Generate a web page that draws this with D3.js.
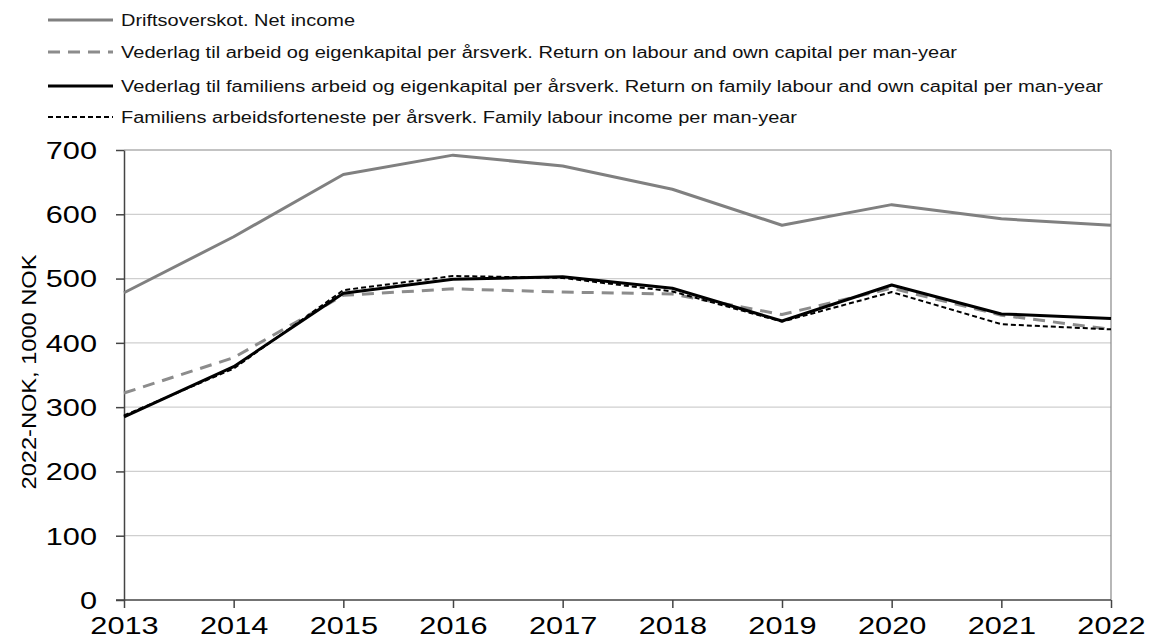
<!DOCTYPE html>
<html><head><meta charset="utf-8">
<script src="https://cdn.jsdelivr.net/npm/d3@7"></script>
<style>
body{margin:0;background:#fff;}
svg{font-family:"Liberation Sans",Arial,sans-serif;}
</style></head>
<body><svg id="c" width="1153" height="640"></svg>
<script>
const years = [2013,2014,2015,2016,2017,2018,2019,2020,2021,2022];
const netIncome = [478,565,662,692,675,639,583,615,593,583];
const returnLabourCapital = [322,377,474,484,479,476,444,485,443,421];
const returnFamilyLabourCapital = [285,363,477,499,503,485,434,490,445,438];
const familyLabourIncome = [287,360,482,504,501,480,433,479,429,421];
const yTicks = [0,100,200,300,400,500,600,700];
const seriesNames = [
  "Driftsoverskot. Net income",
  "Vederlag til arbeid og eigenkapital per årsverk. Return on labour and own capital per man-year",
  "Vederlag til familiens arbeid og eigenkapital per årsverk. Return on family labour and own capital per man-year",
  "Familiens arbeidsforteneste per årsverk. Family labour income per man-year"
];

const styles = [
  {color:"#808080", width:3, dash:null},
  {color:"#8c8c8c", width:3, dash:"12,8"},
  {color:"#000", width:3, dash:null},
  {color:"#000", width:2, dash:"5,3"}
];
const legendTextWidths = [234, 836, 982, 676];
const seriesData = [netIncome, returnLabourCapital, returnFamilyLabourCapital, familyLabourIncome];

const svg = d3.select("#c");
const L = 124, R = 1111, T = 150, B = 600;
const x = d3.scalePoint().domain(years).range([L, R]);
const y = d3.scaleLinear().domain([0,700]).range([B, T]);
const SX = 1.28;

// gridlines
svg.append("g").selectAll("line").data(yTicks.filter(d=>d>0)).join("line")
  .attr("x1", L).attr("x2", R).attr("y1", d=>y(d)).attr("y2", d=>y(d))
  .attr("stroke", d=> d===700 ? "#888" : "#cfcfcf").attr("stroke-width", 1.2);
// right border
svg.append("line").attr("x1",R).attr("x2",R).attr("y1",T).attr("y2",B).attr("stroke","#888").attr("stroke-width",1.2);

// y axis
const ya = svg.append("g").attr("transform",`translate(${L},0)`)
  .call(d3.axisLeft(y).tickValues(yTicks).tickSize(8).tickSizeOuter(0));
ya.select(".domain").attr("stroke","#444").attr("stroke-width",1.5);
ya.selectAll(".tick line").attr("stroke","#444").attr("stroke-width",1.5);
ya.selectAll(".tick text").attr("font-size",24).attr("fill","#000")
  .attr("font-family","Liberation Sans, Arial, sans-serif")
  .attr("x",0).attr("dy","0.35em").attr("text-anchor","end")
  .attr("transform",`translate(-27,0) scale(${SX},1)`);

// x axis
const xa = svg.append("g").attr("transform",`translate(0,${B})`)
  .call(d3.axisBottom(x).tickSize(8).tickSizeOuter(0));
xa.select(".domain").attr("stroke","#444").attr("stroke-width",1.5).attr("d",`M${L-8},0H${R}`);
xa.selectAll(".tick line").attr("stroke","#444").attr("stroke-width",1.5);
xa.selectAll(".tick text").attr("font-size",24).attr("fill","#000")
  .attr("font-family","Liberation Sans, Arial, sans-serif")
  .attr("y",0).attr("dy",0).attr("text-anchor","middle")
  .attr("transform",`translate(0,34) scale(${SX},1)`);

// y label
svg.append("text").attr("transform",`translate(36,${(T+B)/2 - 3}) rotate(-90)`)
  .attr("text-anchor","middle").attr("font-size",20)
  .attr("textLength",235).attr("lengthAdjust","spacingAndGlyphs")
  .text("2022-NOK, 1000 NOK");

// lines
const line = d3.line().x((d,i)=>x(years[i])).y(d=>y(d));
seriesData.forEach((s,k)=>{
  svg.append("path").datum(s).attr("d", line).attr("fill","none")
    .attr("stroke", styles[k].color).attr("stroke-width", styles[k].width)
    .attr("stroke-dasharray", styles[k].dash).attr("stroke-linejoin","round");
});

// legend
const legY = [20, 52, 86, 117];
seriesNames.forEach((n,k)=>{
  svg.append("line").attr("x1",48).attr("x2",113).attr("y1",legY[k]).attr("y2",legY[k])
    .attr("stroke", styles[k].color).attr("stroke-width", styles[k].width)
    .attr("stroke-dasharray", styles[k].dash);
  svg.append("text").attr("x",121).attr("y",legY[k]).attr("dy","0.35em")
    .attr("font-size",16).attr("fill","#111")
    .attr("textLength", legendTextWidths[k]).attr("lengthAdjust","spacingAndGlyphs").text(n);
});
</script></body></html>
